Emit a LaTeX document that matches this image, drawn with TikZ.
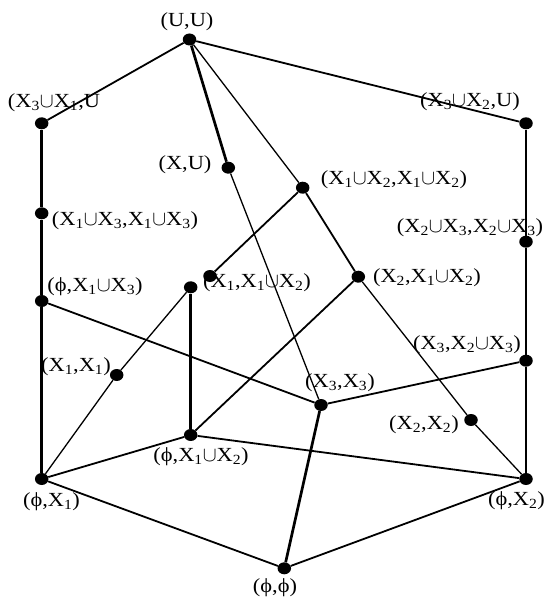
\documentclass[tikz,border=0pt]{standalone}
\usepackage{fontspec}
\setmainfont{Liberation Serif}[FakeStretch=1.12]
\usepackage{tikz}
\usetikzlibrary{shapes.geometric}
\newcommand{\xs}[1]{X\textsubscript{#1}}
\newcommand{\un}{\ensuremath{\mathord{\cup}}}
\newcommand{\ph}{ϕ}

\begin{document}
\begin{tikzpicture}[x=1pt,y=-1pt,font=\fontsize{20}{22}\selectfont,
  dot/.style={ellipse,fill=black,minimum width=13.5pt,minimum height=12pt,inner sep=0pt},
  lbl/.style={inner sep=0pt},
  fine/.style={line width=1.3pt},
  ln/.style={line width=1.8pt},
  bln/.style={line width=2.7pt}]
  \useasboundingbox (0,0) rectangle (547,599);
  % lattice points
  \node[dot] (uu)    at (189.5,39.5) {};
  \node[dot] (a)     at (41.7,123.3) {};
  \node[dot] (b)     at (526,123.3) {};
  \node[dot] (xu)    at (228.3,167.7) {};
  \node[dot] (x12)   at (302.7,187.7) {};
  \node[dot] (x13)   at (41.7,213.3) {};
  \node[dot] (x23)   at (526,241.7) {};
  \node[dot] (x1x12) at (210,276) {};
  \node[dot] (x2x12) at (358.3,276.7) {};
  \node[dot] (p)     at (190.7,287.3) {};
  \node[dot] (phx13) at (41.7,301) {};
  \node[dot] (x3x23) at (526,360.7) {};
  \node[dot] (x1x1)  at (116.7,375) {};
  \node[dot] (x3x3)  at (321,405) {};
  \node[dot] (x2x2)  at (471,420) {};
  \node[dot] (phx12) at (190.7,435) {};
  \node[dot] (phx1)  at (41.7,479) {};
  \node[dot] (phx2)  at (526,479) {};
  \node[dot] (phph)  at (284.3,568.3) {};
  % labels
  \node[lbl] (luu)    at (187,22)  {(U,U)};
  \node[lbl] (la)     at (54,103)  {(\xs3\un\xs1,U};
  \node[lbl] (lb)     at (470,102) {(\xs3\un\xs2,U)};
  \node[lbl] (lxu)    at (185,165) {(X,U)};
  \node[lbl] (lx12)   at (394,180) {(\xs1\un\xs2,\xs1\un\xs2)};
  \node[lbl] (lx13)   at (125,221) {(\xs1\un\xs3,\xs1\un\xs3)};
  \node[lbl] (lx23)   at (470,228) {(\xs2\un\xs3,\xs2\un\xs3)};
  \node[lbl] (lphx13) at (95,287)  {(\ph,\xs1\un\xs3)};
  \node[lbl] (lx1x12) at (257,283) {(\xs1,\xs1\un\xs2)};
  \node[lbl] (lx2x12) at (427,278) {(\xs2,\xs1\un\xs2)};
  \node[lbl] (lx1x1)  at (76,367)  {(\xs1,\xs1)};
  \node[lbl] (lx3x3)  at (340,383) {(\xs3,\xs3)};
  \node[lbl] (lx3x23) at (467,345) {(\xs3,\xs2\un\xs3)};
  \node[lbl] (lx2x2)  at (424,425) {(\xs2,\xs2)};
  \node[lbl] (lphx12) at (201,457) {(\ph,\xs1\un\xs2)};
  \node[lbl] (lphx1)  at (51.5,502) {(\ph,\xs1)};
  \node[lbl] (lphx2)  at (516.5,501) {(\ph,\xs2)};
  \node[lbl] (lphph)  at (275,588) {(\ph,\ph)};
  % edges
  \draw[ln] (uu) -- (a);
  \draw[ln] (uu) -- (b);
  \draw[bln] (uu) -- (xu);
  \draw[fine] (uu) -- (x12);
  \draw[bln] (a) -- (x13) -- (phx13) -- (phx1);
  \draw[bln] (b) -- (x23) -- (x3x23) -- (phx2);
  \draw[fine] (xu) -- (x3x3);
  \draw[ln] (x12) -- (x1x12);
  \draw[ln] (x12) -- (x2x12);
  \draw[fine] (x2x12) -- (x2x2) -- (phx2);
  \draw[ln] (x2x12) -- (phx12);
  \draw[bln] (p) -- (phx12);
  \draw[fine] (p) -- (x1x1) -- (phx1);
  \draw[ln] (phx13) -- (x3x3);
  \draw[ln] (x3x3) -- (x3x23);
  \draw[bln] (x3x3) -- (phph);
  \draw[ln] (phx12) -- (phx1);
  \draw[ln] (phx12) -- (phx2);
  \draw[ln] (phx1) -- (phph);
  \draw[ln] (phph) -- (phx2);
\end{tikzpicture}
\end{document}
